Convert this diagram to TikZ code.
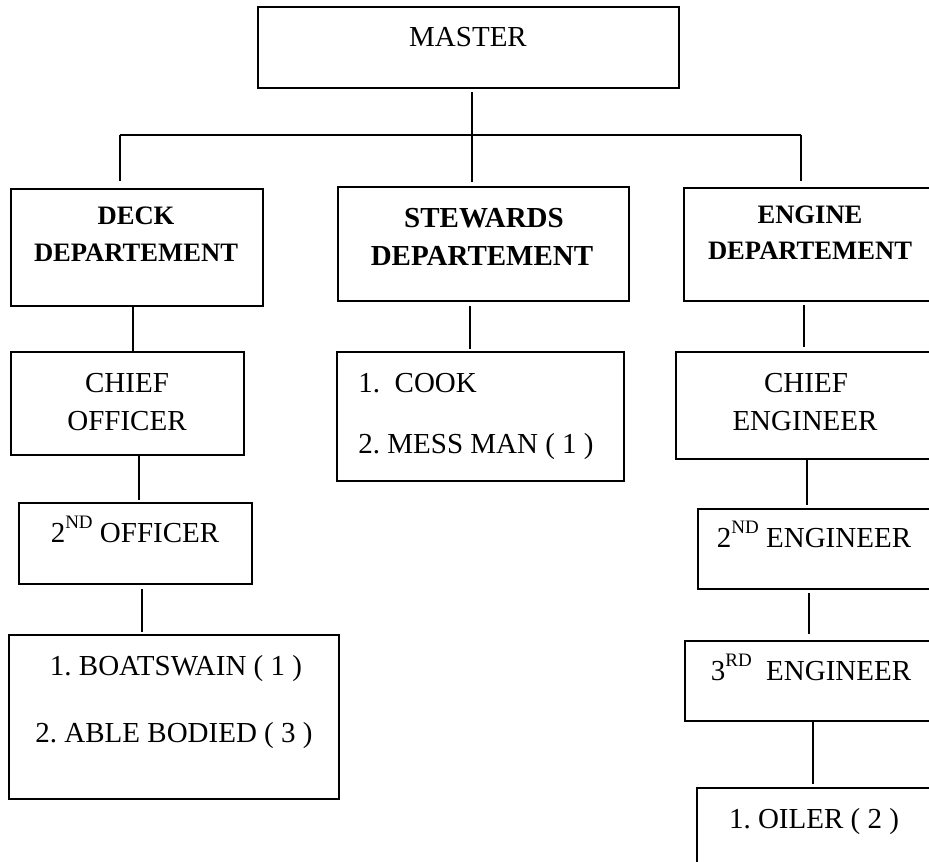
\documentclass[tikz,border=0pt]{standalone}
\usepackage{fontspec}
\setmainfont{Liberation Serif}
\usetikzlibrary{fit}
\frenchspacing
\newcommand{\supx}[1]{\raisebox{0.45em}{\fontsize{9.5}{10}\selectfont #1}}
\tikzset{
  box/.style={draw, line width=1pt, inner sep=0pt},
  conn/.style={draw, line width=0.65pt},
  busline/.style={draw, line width=1pt},
  txt/.style={anchor=base, inner sep=0pt, font=\fontsize{14.5}{17}\selectfont},
  ltxt/.style={anchor=base west, inner sep=0pt, font=\fontsize{14.5}{17}\selectfont},
  dtxt/.style={anchor=base, inner sep=0pt, font=\fontsize{13.3}{16}\selectfont\bfseries},
  stxt/.style={anchor=base, inner sep=0pt, font=\fontsize{14.5}{17}\selectfont\bfseries},
}
\begin{document}
\begin{tikzpicture}[x=0.5pt,y=-0.5pt]
\useasboundingbox (0,0) rectangle (929,861);
\fill[white] (0,0) rectangle (929,861);
% boxes
\node[box, fit={(258,7) (679,88)}] (master) {};
\node[box, fit={(11,189) (263,306)}] (deck) {};
\node[box, fit={(338,187) (629,301)}] (stew) {};
\node[box, fit={(684,188) (945,301)}] (eng) {};
\node[box, fit={(11,352) (244,455)}] (chiefo) {};
\node[box, fit={(19,503) (252,584)}] (seco) {};
\node[box, fit={(9,635) (339,799)}] (boats) {};
\node[box, fit={(337,352) (624,481)}] (cook) {};
\node[box, fit={(676,352) (945,459)}] (chiefe) {};
\node[box, fit={(698,509) (945,589)}] (sece) {};
\node[box, fit={(685,641) (945,721)}] (thirde) {};
\node[box, fit={(697,788) (945,900)}] (oiler) {};
% texts
\node[txt] (tmaster) at (468,47) {MASTER};
\node[dtxt] (tdeck1) at (136,224) {DECK};
\node[dtxt] (tdeck2) at (136,261) {DEPARTEMENT};
\node[stxt] (tstew1) at (484,227) {STEWARDS};
\node[stxt] (tstew2) at (482,265) {DEPARTEMENT};
\node[dtxt] (teng1) at (810,223) {ENGINE};
\node[dtxt] (teng2) at (810,259) {DEPARTEMENT};
\node[txt] (tchiefo1) at (127,392) {CHIEF};
\node[txt] (tchiefo2) at (127,430) {OFFICER};
\node[txt] (tseco) at (135,542) {2\supx{ND} OFFICER};
\node[txt] (tboats1) at (176,675) {1. BOATSWAIN ( 1 )};
\node[txt] (tboats2) at (174,742) {2. ABLE BODIED ( 3 )};
\node[ltxt] (tcook1) at (358,392) {1.\ \ COOK};
\node[ltxt] (tcook2) at (358,453) {2. MESS MAN ( 1 )};
\node[txt] (tchiefe1) at (806,392) {CHIEF};
\node[txt] (tchiefe2) at (805,430) {ENGINEER};
\node[txt] (tsece) at (814,547) {2\supx{ND} ENGINEER};
\node[txt] (tthirde) at (811,680) {3\supx{RD}\ \ ENGINEER};
\node[txt] (toiler) at (814,828) {1. OILER ( 2 )};
% connector coordinates
\coordinate (busM) at (472,135);
\coordinate (busL) at (120,135);
\coordinate (busR) at (801,135);
\coordinate (xd1) at (133,0);
\coordinate (xd2) at (139,0);
\coordinate (xd3) at (142,0);
\coordinate (xs1) at (470,0);
\coordinate (xe1) at (804,0);
\coordinate (xe2) at (807,0);
\coordinate (xe3) at (809,0);
\coordinate (xe4) at (813,0);
% connectors
\draw[conn, shorten <=1.5pt] (master.south -| busM) -- (busM);
\draw[busline] (busL) -- (busR);
\draw[conn, shorten >=3.5pt] (busL) -- (deck.north -| busL);
\draw[conn, shorten >=2pt] (busM) -- (stew.north -| busM);
\draw[conn, shorten >=3pt] (busR) -- (eng.north -| busR);
\draw[conn] (deck.south -| xd1) -- (chiefo.north -| xd1);
\draw[conn, shorten >=1pt] (chiefo.south -| xd2) -- (seco.north -| xd2);
\draw[conn, shorten <=2pt, shorten >=1pt] (seco.south -| xd3) -- (boats.north -| xd3);
\draw[conn, shorten <=2pt, shorten >=1pt] (stew.south -| xs1) -- (cook.north -| xs1);
\draw[conn, shorten <=1.5pt, shorten >=2pt] (eng.south -| xe1) -- (chiefe.north -| xe1);
\draw[conn, shorten >=1.5pt] (chiefe.south -| xe2) -- (sece.north -| xe2);
\draw[conn, shorten <=1.5pt, shorten >=3pt] (sece.south -| xe3) -- (thirde.north -| xe3);
\draw[conn, shorten >=1.5pt] (thirde.south -| xe4) -- (oiler.north -| xe4);
\end{tikzpicture}
\end{document}
